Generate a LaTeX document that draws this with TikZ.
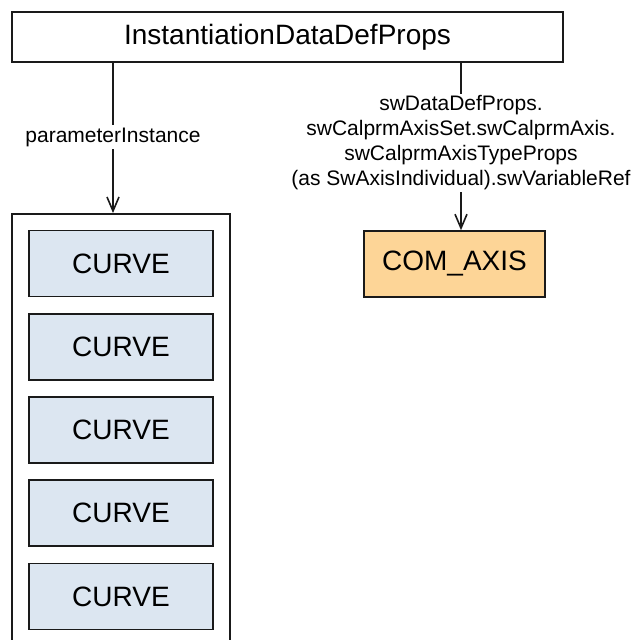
\documentclass[tikz,border=0pt]{standalone}
\usepackage{fontspec}
\setmainfont{Liberation Sans}
\usetikzlibrary{arrows.meta}
\definecolor{curvefill}{HTML}{DCE6F1}
\definecolor{axisfill}{HTML}{FDD597}
\definecolor{edge}{HTML}{1A1A1A}
\tikzset{
  x=1pt, y=1pt,
  boxfont/.style={font=\fontsize{28}{32}\selectfont},
  lblfont/.style={font=\fontsize{21}{25}\selectfont},
  topbox/.style={draw=edge, line width=1.6pt, fill=white, minimum width=551pt, minimum height=50pt, inner sep=0pt, boxfont},
  curvebox/.style={draw=edge, line width=1.6pt, fill=curvefill, minimum width=184pt, minimum height=66pt, inner sep=0pt, boxfont},
  axisbox/.style={draw=edge, line width=1.6pt, fill=axisfill, minimum width=181pt, minimum height=66pt, inner sep=0pt, boxfont},
  listbox/.style={draw=edge, line width=1.6pt, fill=white, minimum width=218pt, minimum height=460pt, inner sep=0pt, anchor=north},
  conn/.style={draw=edge, line width=1.6pt, -{Straight Barb[length=14pt,width=12pt,line width=1.6pt]}},
  lbl/.style={fill=white, inner sep=2pt, align=center, lblfont},
}
\begin{document}
\begin{tikzpicture}
\useasboundingbox (0,0) rectangle (633,-640);
\clip (0,0) rectangle (633,-640);
\node[topbox] (top) at (287.5,-37) {InstantiationDataDefProps};
\node[listbox] (list) at (121,-213) {};
\foreach \i in {0,...,4} {
  \node[curvebox] (c\i) at (121,{-263.5-83.25*\i}) {CURVE};
}
\node[axisbox] (axis) at (454.5,-264) {COM\_AXIS};
\coordinate (ls) at (113,-62);
\coordinate (rs) at (461,-62);
\draw[conn] (ls) -- (ls |- list.north);
\node[lbl, inner sep=3pt] (plabel) at (113,-137) {parameterInstance};
\draw[conn] (rs) -- (rs |- axis.north);
\node[lbl, inner sep=2pt] (alabel) at (461,-143) {swDataDefProps.\\swCalprmAxisSet.swCalprmAxis.\\swCalprmAxisTypeProps\\(as SwAxisIndividual).swVariableRef};
\end{tikzpicture}
\end{document}
